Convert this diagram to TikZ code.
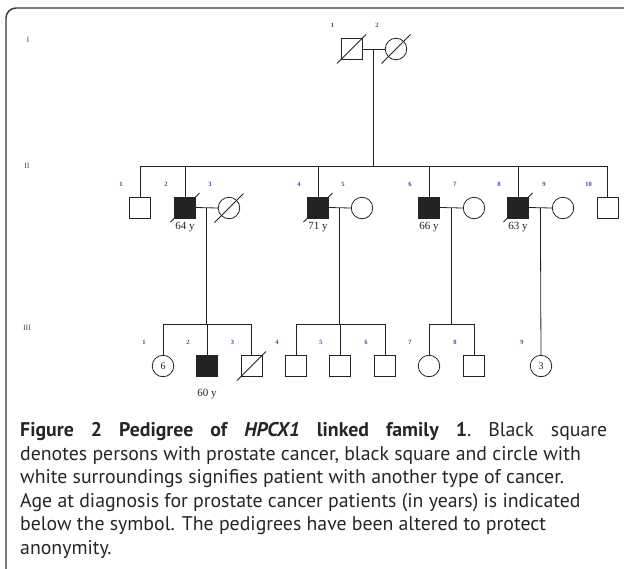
\documentclass[tikz,border=0pt]{standalone}
\usepackage{fontspec}
\setmainfont{Liberation Serif}
\newfontfamily\capfont{PT Sans}
\usetikzlibrary{calc}
\definecolor{numblue}{RGB}{50,80,170}
\definecolor{inkgray}{RGB}{35,35,35}
\def\pnum#1#2{\node[num] (n#1) at ($(#1)+(-19,-23.5)$) {#2};}
\def\deceased#1{\draw[pedline] ($(#1)+(-14.5,14.5)$) -- ($(#1)+(14.5,-14.5)$);}
\tikzset{
  pedline/.style={draw=inkgray, line width=0.8pt},
  male/.style={pedline, rectangle, minimum size=21pt, inner sep=0pt},
  female/.style={pedline, circle, minimum size=21.5pt, inner sep=0pt, text=inkgray, font=\normalfont\fontsize{10}{10}\selectfont},
  affected/.style={fill=inkgray},
  num/.style={text=numblue, font=\fontsize{6.5}{7}\selectfont\bfseries},
  gen/.style={text=black!70, font=\normalfont\fontsize{8}{9}\selectfont},
  age/.style={text=inkgray, font=\normalfont\fontsize{11}{12}\selectfont},
  capline/.style={anchor=base west, inner sep=0pt, text=black!85, font=\capfont\fontsize{19.8}{23}\selectfont},
}
\begin{document}
\begin{tikzpicture}[x=1pt, y=-1pt]
		\useasboundingbox (0,0) rectangle (624,568);
		\draw[draw=black!80, line width=1.4pt, rounded corners=10pt] (6,8) rectangle (640,580);
		
		%%%%% generations %%%%%
		\node[gen] (gI) at (28,40) {I};
		\node[gen] (gII) at (27,166) {II};
		\node[gen] (gIII) at (27,328) {III};
		\coordinate (sibII) at (0,166);
		\coordinate (sibIII) at (0,324);
		
		%%%%% I %%%%%
		\node[male] (I1) at (351.5,49) {};
		\node[female] (I2) at (396,49) {};
		\pnum{I1}{1} \pnum{I2}{2}
		\deceased{I1} \deceased{I2}
		\draw[pedline] (I1.east) -- (I2.west);
		\coordinate (m12) at ($(I1.east)!0.5!(I2.west)$);
		
		%%%%% II %%%%%
		\node[male] (II1) at (140,207.5) {};
		\node[male, affected] (II2) at (185,207.5) {};
		\node[female] (II3) at (229,208) {};
		\node[male, affected] (II4) at (318,207.5) {};
		\node[female] (II5) at (362,208) {};
		\node[male, affected] (II6) at (429,207.5) {};
		\node[female] (II7) at (474,208) {};
		\node[male, affected] (II8) at (518,207.5) {};
		\node[female] (II9) at (563,208) {};
		\node[male] (II10) at (607.5,207.5) {};
		\node[age] (aII2) at ($(II2)+(0,19.5)$) {64 y};
		\node[age] (aII4) at ($(II4)+(0,19.5)$) {71 y};
		\node[age] (aII6) at ($(II6)+(0,19.5)$) {66 y};
		\node[age] (aII8) at ($(II8)+(0,19.5)$) {63 y};
		\pnum{II1}{1} \pnum{II2}{2} \pnum{II3}{3} \pnum{II4}{4} \pnum{II5}{5}
		\pnum{II6}{6} \pnum{II7}{7} \pnum{II8}{8} \pnum{II9}{9} \pnum{II10}{10}
		\deceased{II2} \deceased{II3} \deceased{II4} \deceased{II8}
		
		\draw[pedline] (m12) -- (m12 |- sibII);
		\draw[pedline] (II1.north) -- (II1 |- sibII) -- (II10 |- sibII) -- (II10.north);
		\foreach \p in {II2,II4,II6,II8}
			\draw[pedline] (\p.north) -- (\p |- sibII);
		\foreach \a/\b in {II2/II3,II4/II5,II6/II7,II8/II9} {
			\draw[pedline] (\a.east) -- (\b.west);
			\coordinate (m\a) at ($(\a.east)!0.5!(\b.west)$);
		}
		
		%%%%% III %%%%%
		\node[female] (III1) at (163,366) {6};
		\node[male, affected] (III2) at (207,366) {};
		\node[male] (III3) at (251.5,366) {};
		\node[male] (III4) at (296,366) {};
		\node[male] (III5) at (340,366) {};
		\node[male] (III6) at (385,366) {};
		\node[female] (III7) at (429,366) {};
		\node[male] (III8) at (474,366) {};
		\node[female] (III9) at (541,366) {3};
		\node[age] (aIII2) at ($(III2)+(0,28)$) {60 y};
		\foreach \p/\k in {III1/1,III2/2,III3/3,III4/4,III5/5,III6/6,III7/7,III8/8,III9/9}
			{\pnum{\p}{\k}}
		\deceased{III3}
		
		\draw[pedline] (mII2) -- (mII2 |- sibIII);
		\draw[pedline] (III1.north) -- (III1 |- sibIII) -- (III3 |- sibIII) -- (III3.north);
		\draw[pedline] (III2.north) -- (III2 |- sibIII);
		\draw[pedline] (mII4) -- (mII4 |- sibIII);
		\draw[pedline] (III4.north) -- (III4 |- sibIII) -- (III6 |- sibIII) -- (III6.north);
		\draw[pedline] (III5.north) -- (III5 |- sibIII);
		\draw[pedline] (mII6) -- (mII6 |- sibIII);
		\draw[pedline] (III7.north) -- (III7 |- sibIII) -- (III8 |- sibIII) -- (III8.north);
		\draw[pedline] (mII8) -- (III9.north);
		
		%%%%% caption %%%%%
		\node[capline] (cap1) at (20,436.5) {\spaceskip=5pt plus 1fil\xspaceskip=5pt plus 1fil\makebox[587pt][s]{\textbf{Figure 2 Pedigree of \textit{HPCX1} linked family 1}. Black square}};
		\node[capline] (cap2) at (20,460) {denotes persons with prostate cancer, black square and circle with};
		\node[capline] (cap3) at (20,483.5) {white surroundings signifies patient with another type of cancer.};
		\node[capline] (cap4) at (20,507) {Age at diagnosis for prostate cancer patients (in years) is indicated};
		\node[capline] (cap5) at (20,530.5) {below the symbol. The pedigrees have been altered to protect};
		\node[capline] (cap6) at (20,554) {anonymity.};
\end{tikzpicture}
\end{document}
